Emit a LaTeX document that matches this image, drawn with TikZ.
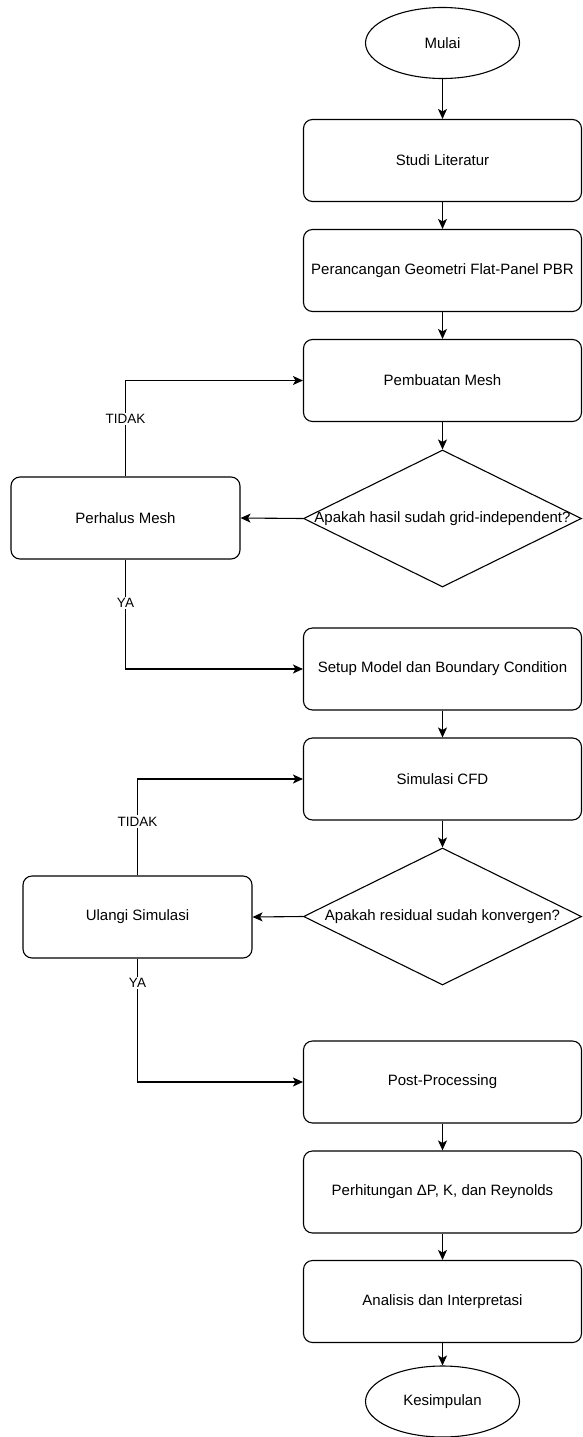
\documentclass[tikz,border=0pt]{standalone}
\usepackage{fontspec}
\setmainfont{Liberation Sans}
\usetikzlibrary{arrows.meta}
\usetikzlibrary{shapes.geometric}

\tikzset{
  langkah/.style={draw, rounded corners=9pt, minimum width=278pt, minimum height=82pt, inner sep=0pt, font=\fontsize{15}{18}\selectfont},
  ujung/.style={draw, ellipse, minimum width=154pt, minimum height=71pt, inner sep=0pt, font=\fontsize{15}{18}\selectfont},
  cek/.style={draw, diamond, minimum width=278pt, minimum height=137pt, inner sep=0pt},
  tanya/.style={inner sep=0pt, font=\fontsize{15}{18}\selectfont},
  ket/.style={fill=white, inner sep=1.5pt, font=\fontsize{13.5}{16}\selectfont}
}

\begin{document}
\begin{tikzpicture}[x=1pt, y=-1pt, line width=1.1pt, >={Stealth[length=10pt,width=9pt,inset=2.5pt]}]
\useasboundingbox (0,0) rectangle (582,1437);
% jalur utama
\node[ujung]   (mulai)    at (442.5,43)     {Mulai};
\node[langkah] (studi)    at (442.5,160.5)  {Studi Literatur};
\node[langkah] (rancang)  at (442.5,270.5)  {Perancangan Geometri Flat-Panel PBR};
\node[langkah] (mesh)     at (442.5,380.5)  {Pembuatan Mesh};
\node[cek]     (cekmesh)  at (442.5,518.5)  {};
\node[tanya]   (cekmeshT) at (cekmesh)      {Apakah hasil sudah grid-independent?};
\node[langkah] (setup)    at (442.5,669)    {Setup Model dan Boundary Condition};
\node[langkah] (simcfd)   at (442.5,779)    {Simulasi CFD};
\node[cek]     (cekres)   at (442.5,916.5)  {};
\node[tanya]   (cekresT)  at (cekres)       {Apakah residual sudah konvergen?};
\node[langkah] (post)     at (442.5,1082)   {Post-Processing};
\node[langkah] (hitung)   at (442.5,1192)   {Perhitungan ΔP, K, dan Reynolds};
\node[langkah] (analisis) at (442.5,1301.5) {Analisis dan Interpretasi};
\node[ujung]   (selesai)  at (442.5,1401.5) {Kesimpulan};
% cabang kiri
\node[langkah, minimum width=229pt] (halus)  at (125.5,518) {Perhalus Mesh};
\node[langkah, minimum width=229pt] (ulangi) at (137.5,917) {Ulangi Simulasi};

\foreach \a/\b in {mulai/studi, studi/rancang, rancang/mesh, mesh/cekmesh, setup/simcfd, simcfd/cekres, post/hitung, hitung/analisis, analisis/selesai}
  \draw[->] (\a) -- (\b);

\draw[->] (cekmesh.west) -- (halus.east);
\draw[->] (halus.north) |- node[ket, pos=.3] {TIDAK} (mesh.west);
\draw[->] (halus.south) |- node[ket, pos=.2] {YA} (setup.west);

\draw[->] (cekres.west) -- (ulangi.east);
\draw[->] (ulangi.north) |- node[ket, pos=.28] {TIDAK} (simcfd.west);
\draw[->] (ulangi.south) |- node[ket, pos=.1] {YA} (post.west);
\end{tikzpicture}
\end{document}
